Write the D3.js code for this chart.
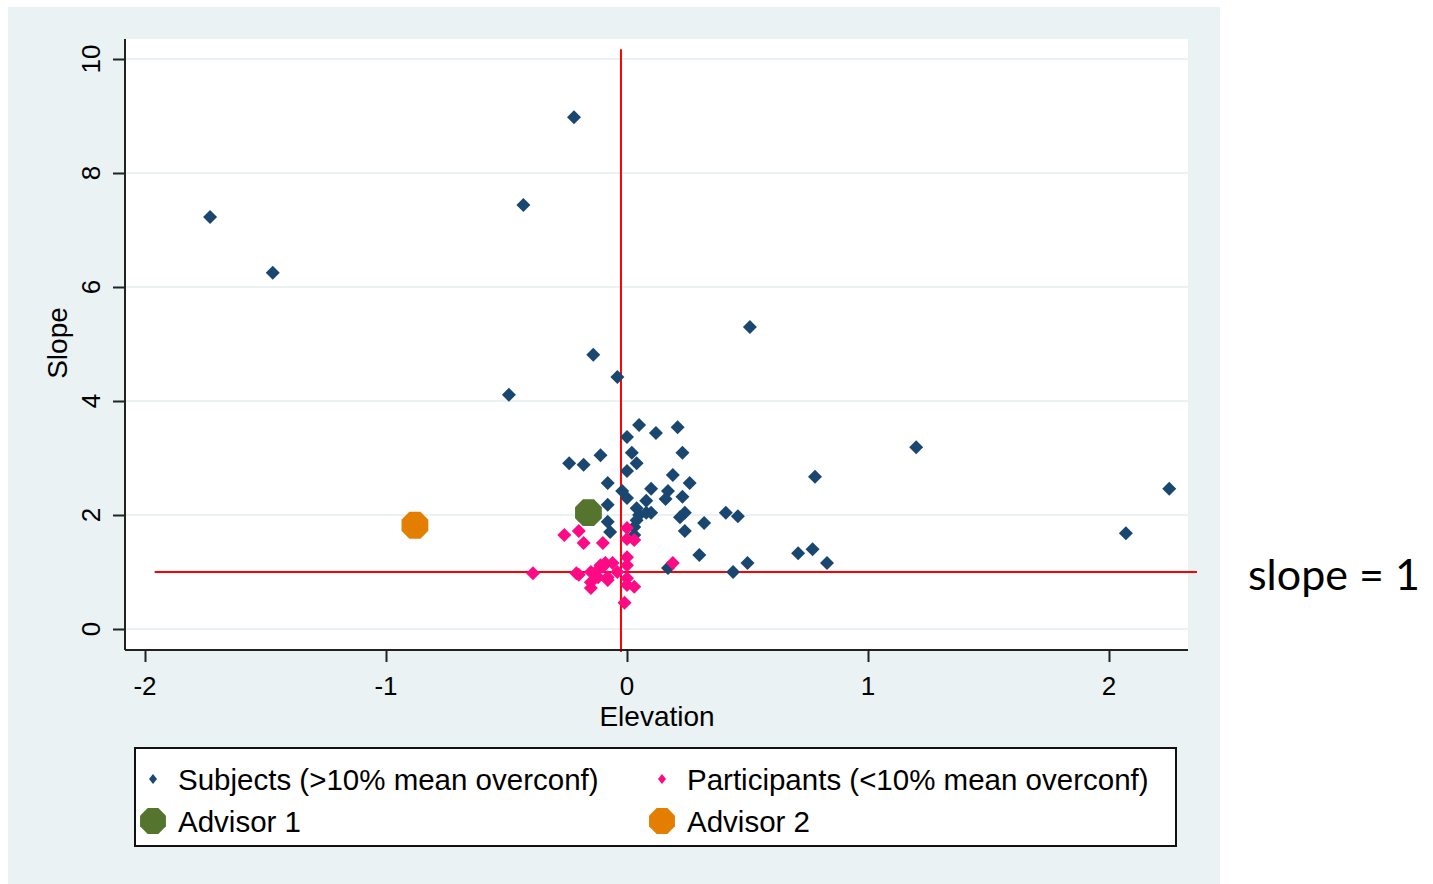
<!DOCTYPE html>
<html>
<head>
<meta charset="utf-8">
<script src="https://cdn.jsdelivr.net/npm/d3@7"></script>
<style>
  body { margin: 0; background: #fff; }
  svg text { font-family: "Liberation Sans", Arial, sans-serif; fill: #000; }
</style>
</head>
<body>
<svg id="chart" width="1433" height="884"></svg>
<script>
// subjects (>10% mean overconfidence): [elevation, slope]
var subjects = [
  [-1.73, 7.23], [-1.47, 6.25], [-0.22, 8.98], [-0.43, 7.44], [-0.49, 4.11],
  [-0.14, 4.81], [-0.04, 4.42], [0.51, 5.30], [1.20, 3.19], [0.78, 2.67],
  [2.25, 2.46], [2.07, 1.68], [0.50, 1.16], [0.83, 1.16], [0.71, 1.33],
  [0.77, 1.40], [0.44, 1.00], [0.30, 1.30], [0.41, 2.04], [0.46, 1.98],
  [0.32, 1.86], [0.17, 1.07], [0.05, 3.58], [0.21, 3.54], [0.12, 3.44],
  [0.00, 3.37], [0.02, 3.09], [0.23, 3.09], [-0.24, 2.91], [-0.18, 2.88],
  [-0.11, 3.05], [0.04, 2.91], [0.00, 2.77], [0.19, 2.70], [0.26, 2.56],
  [-0.08, 2.56], [0.10, 2.46], [-0.02, 2.42], [0.00, 2.30], [0.17, 2.42],
  [0.16, 2.28], [0.23, 2.32], [0.08, 2.25], [-0.08, 2.18], [0.04, 2.12],
  [0.05, 2.00], [0.08, 2.04], [0.10, 2.04], [0.22, 1.96], [0.24, 2.04],
  [0.04, 1.91], [-0.08, 1.88], [-0.07, 1.70], [0.24, 1.72], [0.03, 1.79],
  [0.03, 1.65]
];
// participants (<10% mean overconfidence)
var participants = [
  [-0.39, 0.98], [-0.26, 1.65], [-0.20, 1.72], [-0.18, 1.51], [-0.10, 1.51],
  [0.00, 1.77], [0.00, 1.58], [0.03, 1.56], [-0.09, 1.16], [-0.06, 1.16],
  [-0.11, 1.12], [0.00, 1.26], [0.00, 1.12], [-0.21, 0.98], [-0.20, 0.95],
  [-0.15, 1.00], [-0.13, 1.00], [-0.08, 0.91], [-0.04, 1.00], [-0.15, 0.82],
  [-0.15, 0.72], [0.00, 0.89], [0.00, 0.77], [0.03, 0.74], [-0.01, 0.46],
  [0.19, 1.16], [-0.10, 1.09], [-0.12, 0.91], [-0.08, 0.86]
];
var advisor1 = [[-0.16, 2.04]];
var advisor2 = [[-0.88, 1.82]];

var xTicks = [-2, -1, 0, 1, 2];
var yTicks = [0, 2, 4, 6, 8, 10];
var refElevation = -0.025;   // vertical red line
var refSlope = 1;            // horizontal red line

var legendItems = [
  { label: "Subjects (>10% mean overconf)", color: "#1a476f", shape: "diamond" },
  { label: "Participants (<10% mean overconf)", color: "#ff0a85", shape: "diamond" },
  { label: "Advisor 1", color: "#55752f", shape: "octagon" },
  { label: "Advisor 2", color: "#e37e00", shape: "octagon" }
];

var svg = d3.select("#chart");

var x = d3.scaleLinear().domain([-2, 2]).range([145, 1109]);
var y = d3.scaleLinear().domain([0, 10]).range([629, 59]);

// graph background
svg.append("rect")
  .attr("x", 8).attr("y", 7).attr("width", 1212).attr("height", 877)
  .attr("fill", "#eaf2f3");

// plot region
var plotL = 125, plotR = 1188, plotT = 39, plotB = 650;
svg.append("rect")
  .attr("x", plotL).attr("y", plotT)
  .attr("width", plotR - plotL).attr("height", plotB - plotT)
  .attr("fill", "#fff");

// grid lines
svg.append("g").selectAll("line")
  .data(yTicks).join("line")
  .attr("x1", plotL).attr("x2", plotR)
  .attr("y1", d => y(d)).attr("y2", d => y(d))
  .attr("stroke", "#eaf2f3").attr("stroke-width", 2);

// reference lines
svg.append("line")
  .attr("x1", x(-1.96)).attr("x2", x(2.365))
  .attr("y1", y(refSlope)).attr("y2", y(refSlope))
  .attr("stroke", "#ff0000").attr("stroke-width", 2);
svg.append("line")
  .attr("x1", x(refElevation)).attr("x2", x(refElevation))
  .attr("y1", y(10.17)).attr("y2", plotB + 2)
  .attr("stroke", "#ff0000").attr("stroke-width", 2);

// axes
var yAxis = svg.append("g")
  .attr("transform", "translate(" + plotL + ",0)")
  .call(d3.axisLeft(y).tickValues(yTicks).tickSize(12).tickFormat(""));
yAxis.select(".domain").attr("d", "M0," + plotT + "V" + plotB);
var xAxis = svg.append("g")
  .attr("transform", "translate(0," + plotB + ")")
  .call(d3.axisBottom(x).tickValues(xTicks).tickSize(12).tickFormat(""));
xAxis.select(".domain").attr("d", "M" + plotL + ",0H" + plotR);
svg.selectAll(".domain, .tick line").attr("stroke", "#222").attr("stroke-width", 2);

// tick labels
svg.append("g").selectAll("text")
  .data(yTicks).join("text")
  .attr("transform", d => "translate(100," + y(d) + ") rotate(-90)")
  .attr("text-anchor", "middle")
  .style("font-size", "26px")
  .text(d => d);
svg.append("g").selectAll("text")
  .data(xTicks).join("text")
  .attr("x", d => x(d)).attr("y", 695)
  .attr("text-anchor", "middle")
  .style("font-size", "26px")
  .text(d => d);

// axis titles
svg.append("text")
  .attr("x", 657).attr("y", 726)
  .attr("text-anchor", "middle")
  .style("font-size", "28px")
  .text("Elevation");
svg.append("text")
  .attr("transform", "translate(67,343) rotate(-90)")
  .attr("text-anchor", "middle")
  .style("font-size", "28px")
  .text("Slope");

function diamond(r) {
  return "M0," + (-r) + "L" + r + ",0L0," + r + "L" + (-r) + ",0Z";
}
function octagon(r) {
  var pts = d3.range(8).map(function(i) {
    var a = Math.PI / 8 + i * Math.PI / 4;
    return [r * Math.cos(a), r * Math.sin(a)];
  });
  return "M" + pts.join("L") + "Z";
}

// markers
svg.append("g").selectAll("path")
  .data(subjects).join("path")
  .attr("transform", d => "translate(" + x(d[0]) + "," + y(d[1]) + ")")
  .attr("d", diamond(7))
  .attr("fill", "#1a476f");
svg.append("g").selectAll("path")
  .data(participants).join("path")
  .attr("transform", d => "translate(" + x(d[0]) + "," + y(d[1]) + ")")
  .attr("d", diamond(7))
  .attr("fill", "#ff0a85");
svg.append("g").selectAll("path")
  .data(advisor1).join("path")
  .attr("transform", d => "translate(" + x(d[0]) + "," + y(d[1]) + ")")
  .attr("d", octagon(14.5))
  .attr("fill", "#55752f");
svg.append("g").selectAll("path")
  .data(advisor2).join("path")
  .attr("transform", d => "translate(" + x(d[0]) + "," + y(d[1]) + ")")
  .attr("d", octagon(14.5))
  .attr("fill", "#e37e00");

// legend
svg.append("rect")
  .attr("x", 135).attr("y", 748).attr("width", 1041).attr("height", 98)
  .attr("fill", "#fff").attr("stroke", "#111").attr("stroke-width", 2);
var leg = svg.append("g").selectAll("g")
  .data(legendItems).join("g")
  .attr("transform", (d, i) => "translate(" + (i % 2 === 0 ? 153 : 662) + "," + (i < 2 ? 779 : 821) + ")");
leg.append("path")
  .attr("d", d => d.shape === "diamond" ? diamond(5) : octagon(14))
  .attr("transform", d => d.shape === "diamond" ? "scale(0.8,1)" : "")
  .attr("fill", d => d.color);
leg.append("text")
  .attr("x", 25).attr("y", 11)
  .style("font-size", "29.5px")
  .text(d => d.label);

// annotation
svg.append("text")
  .attr("x", 1248).attr("y", 590)
  .style("font-family", "Lato, 'Open Sans', sans-serif")
  .style("font-size", "43px")
  .text("slope = " + refSlope);
</script>
</body>
</html>
